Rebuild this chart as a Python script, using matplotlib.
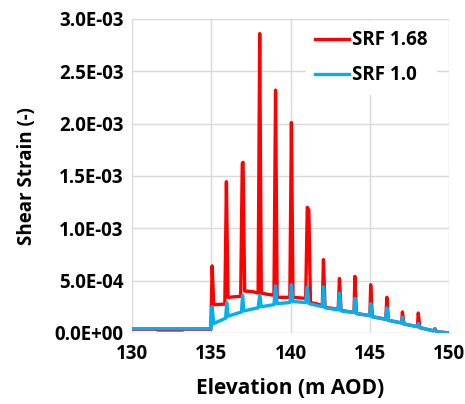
import matplotlib
matplotlib.use("Agg")
import matplotlib.pyplot as plt
from matplotlib.ticker import FuncFormatter, MultipleLocator

plt.rcParams['font.family'] = ['Open Sans', 'DejaVu Sans']
plt.rcParams['font.weight'] = 'bold'

# shear strain along the profile, strain values in units of 1e-4
srf168_elev = [130.0, 131.6, 131.6, 133.2, 133.2, 134.97, 135.05, 135.15,
               135.85, 135.95, 136.05, 136.85, 136.95, 137.0, 137.1, 137.6,
               137.95, 138.05, 138.15, 138.5, 138.95, 139.05, 139.15, 139.95,
               140.05, 140.15, 140.95, 141.05, 141.15, 141.25, 141.6, 142.0,
               142.07, 142.17, 143.0, 143.08, 143.18, 144.0, 144.05, 144.15,
               145.0, 145.05, 145.15, 146.0, 146.07, 146.17, 147.0, 147.05,
               147.15, 148.0, 148.05, 148.15, 149.0, 149.1, 149.2, 150.0]
srf168_strain = [0.35, 0.35, 0.28, 0.28, 0.35, 0.35, 6.4, 2.7,
                 2.75, 14.45, 3.4, 3.5, 16.2, 16.3, 4.0, 3.95,
                 3.8, 28.6, 3.8, 3.7, 3.6, 23.2, 3.4, 3.4,
                 20.1, 3.4, 3.3, 12.0, 11.7, 2.9, 2.8, 2.6,
                 7.0, 2.45, 2.25, 5.2, 2.15, 1.95, 5.4, 1.85,
                 1.65, 4.6, 1.55, 1.3, 3.4, 1.2, 0.95, 2.0,
                 0.85, 0.6, 1.9, 0.5, 0.2, 0.4, 0.12, 0.0]

srf10_elev = [130.0, 134.97, 135.05, 135.15, 135.9, 135.97, 136.05, 136.9,
              136.97, 137.05, 137.95, 138.05, 138.15, 138.95, 139.05, 139.15,
              139.95, 140.05, 140.15, 140.95, 141.05, 141.15, 142.0, 142.07,
              142.17, 143.0, 143.08, 143.18, 144.0, 144.05, 144.15, 145.0,
              145.05, 145.15, 146.0, 146.07, 146.17, 147.0, 147.05, 147.15,
              148.0, 148.05, 148.15, 149.0, 149.1, 149.2, 150.0]
srf10_strain = [0.4, 0.4, 2.5, 0.9, 1.4, 2.9, 1.6, 2.0,
                3.6, 2.1, 2.4, 3.6, 2.5, 2.7, 4.5, 2.8,
                2.9, 4.6, 3.0, 2.9, 4.4, 2.8, 2.5, 4.4,
                2.4, 2.2, 3.8, 2.1, 1.95, 3.3, 1.85, 1.65,
                2.8, 1.55, 1.3, 2.4, 1.2, 0.95, 1.5, 0.85,
                0.6, 0.9, 0.5, 0.2, 0.35, 0.1, 0.0]

fig = plt.figure(figsize=(4.65, 4.04), dpi=100)
ax = fig.add_axes([0.284, 0.176, 0.682, 0.777])

ax.plot(srf168_elev, [v * 1e-4 for v in srf168_strain], color='#ff0000',
        lw=2.4, label='SRF 1.68', zorder=3)
ax.plot(srf10_elev, [v * 1e-4 for v in srf10_strain], color='#00b0f0',
        lw=2.4, label='SRF 1.0', zorder=4)

ax.set_xlim(130, 150)
ax.set_ylim(0, 3.0e-3)
ax.xaxis.set_major_locator(MultipleLocator(5))
ax.yaxis.set_major_locator(MultipleLocator(5e-4))
ax.yaxis.set_major_formatter(FuncFormatter(lambda v, p: f"{v:.1E}"))
ax.grid(True, color='#d9d9d9', lw=1)
ax.set_axisbelow(True)
for s in ax.spines.values():
    s.set_visible(False)
ax.tick_params(length=0, labelsize=13.5)
ax.tick_params(axis='x', pad=8)
ax.tick_params(axis='y', pad=6)

ax.set_xlabel('Elevation (m AOD)', fontsize=15, fontweight='bold', labelpad=10)
ax.set_ylabel('Shear Strain (-)', fontsize=13.5, fontweight='bold', labelpad=13)

leg = ax.legend(loc='upper right', bbox_to_anchor=(0.96, 0.994),
                borderaxespad=0, fontsize=13.5, frameon=True, fancybox=False,
                edgecolor='none', facecolor='white', framealpha=1,
                handlelength=1.8, handletextpad=0.15, labelspacing=0.8,
                borderpad=0.5)

fig.savefig('out.png', dpi=100)
